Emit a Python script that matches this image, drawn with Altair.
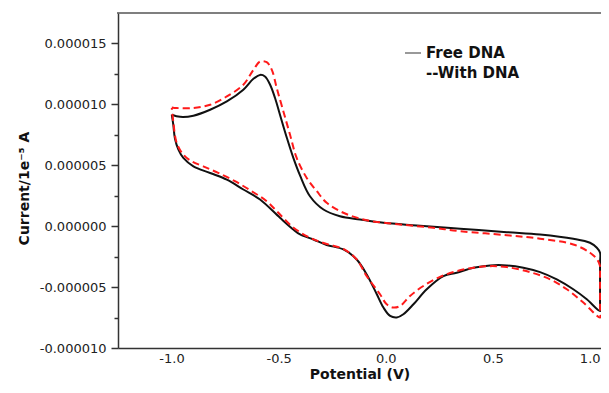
import altair as alt
import pandas as pd

# Free DNA (black, solid) - potential (V) and current (x1e-6 A), in scan order
free_v = [-0.999, -0.960, -0.898, -0.820, -0.742, -0.665, -0.618, -0.587, -0.564, -0.540,
          -0.517, -0.494, -0.462, -0.432, -0.400, -0.354, -0.291, -0.214, -0.120, -0.011,
          0.144, 0.347, 0.565, 0.720, 0.875, 0.953, 0.985, 1.000, 1.000, 1.000, 1.000,
          0.938, 0.875, 0.798, 0.720, 0.642, 0.565, 0.487, 0.409, 0.331, 0.269,
          0.191, 0.129, 0.082, 0.051, 0.020, -0.011, -0.042, -0.089, -0.136, -0.198,
          -0.276, -0.338, -0.400, -0.432, -0.494, -0.587, -0.665, -0.742, -0.820, -0.898,
          -0.945, -0.968, -0.984, -0.992, -0.999]
free_i = [9.15, 8.98, 9.07, 9.56, 10.24, 11.20, 12.10, 12.42, 12.29, 11.61,
          10.52, 9.15, 7.26, 5.63, 4.15, 2.46, 1.37, 0.82, 0.55, 0.28,
          0.06, -0.21, -0.49, -0.68, -1.03, -1.36, -1.77, -2.18, -3.00, -6.50, -6.96,
          -6.00, -5.18, -4.37, -3.77, -3.41, -3.22, -3.22, -3.41, -3.82, -4.10,
          -5.18, -6.41, -7.23, -7.50, -7.37, -6.68, -5.59, -3.96, -2.73, -1.91,
          -1.54, -1.09, -0.68, -0.27, 0.69, 2.19, 3.01, 3.82, 4.37, 4.91,
          5.60, 6.28, 7.18, 8.33, 9.15]

# With DNA (red, dashed)
with_v = [-0.999, -0.976, -0.898, -0.820, -0.742, -0.665, -0.618, -0.587, -0.556, -0.532,
          -0.509, -0.478, -0.447, -0.416, -0.369, -0.322, -0.276, -0.198, -0.089, 0.067,
          0.222, 0.347, 0.565, 0.720, 0.875, 0.953, 0.985, 1.000, 1.000, 1.000, 1.000,
          0.922, 0.845, 0.767, 0.673, 0.565, 0.487, 0.409, 0.331, 0.253, 0.175,
          0.113, 0.067, 0.035, 0.004, -0.027, -0.089, -0.136, -0.198, -0.276, -0.354,
          -0.432, -0.509, -0.556, -0.626, -0.704, -0.782, -0.852, -0.906, -0.945, -0.976,
          -0.992, -0.999]
with_i = [9.75, 9.70, 9.70, 9.97, 10.65, 11.61, 12.83, 13.51, 13.46, 12.83,
          11.33, 9.42, 7.51, 5.60, 3.96, 2.87, 1.92, 1.10, 0.49, 0.14,
          -0.13, -0.41, -0.74, -1.03, -1.50, -2.18, -2.70, -3.28, -4.00, -7.00, -7.50,
          -6.27, -5.18, -4.37, -3.77, -3.36, -3.28, -3.41, -3.69, -4.16, -4.91,
          -5.73, -6.55, -6.68, -6.41, -5.59, -4.10, -2.73, -1.87, -1.46, -0.95,
          -0.11, 1.23, 2.05, 2.87, 3.69, 4.37, 4.91, 5.32, 5.87, 6.83,
          8.60, 9.70]

legend_labels = ["Free DNA", "--With DNA"]
x_ticks = [-1.0, -0.5, 0.0, 0.5, 1.0]
y_ticks = [-10, -7.5, -5, -2.5, 0, 2.5, 5, 7.5, 10, 12.5, 15]

free_df = pd.DataFrame({"V": free_v, "I": [v * 1e-6 for v in free_i], "idx": range(len(free_v))})
with_df = pd.DataFrame({"V": with_v, "I": [v * 1e-6 for v in with_i], "idx": range(len(with_v))})

FONT = "DejaVu Sans"
is_major = "abs(round(datum.value*2e5) - datum.value*2e5) < 0.01"
W = 483
H = 335

x_enc = alt.X(
    "V:Q",
    scale=alt.Scale(domain=[-1.25, 1.0044], nice=False, zero=False),
    axis=alt.Axis(
        values=x_ticks,
        labelExpr="replace(format(datum.value, '.1f'), '\u2212', '-')",
        title="Potential (V)",
        ticks=False,
        tickSize=0,
        labelPadding=4,
        titlePadding=2,
        titleFontSize=14,
        grid=False,
    ),
)
y_enc = alt.Y(
    "I:Q",
    scale=alt.Scale(domain=[-10e-6, 17.5e-6], nice=False, zero=False),
    axis=alt.Axis(
        values=[v * 1e-6 for v in y_ticks],
        labelExpr=is_major + " ? replace(format(datum.value, '.6f'), '\u2212', '-') : ''",
        title="Current/1e\u207b\u2075 A",
        tickSize={"condition": {"test": is_major, "value": 7}, "value": 4},
        labelPadding=5,
        titlePadding=8,
        titleY=175,
        grid=False,
    ),
)

black = alt.Chart(free_df).mark_line(
    color="#111111", strokeWidth=2, interpolate="catmull-rom"
).encode(x=x_enc, y=y_enc, order="idx:Q")

red = alt.Chart(with_df).mark_line(
    color="#ff1a1a", strokeWidth=2, strokeDash=[7, 4], interpolate="catmull-rom"
).encode(x=x_enc, y=y_enc, order="idx:Q")

top_border = alt.Chart(pd.DataFrame({"k": [0]})).mark_rule(
    color="#555555", strokeWidth=1.5
).encode(x=alt.value(-1), x2=alt.value(W + 10), y=alt.value(0))

leg_line = alt.Chart(pd.DataFrame({"k": [0]})).mark_rule(
    color="#555555", strokeWidth=1.2
).encode(x=alt.value(287), x2=alt.value(303), y=alt.value(40))

leg_text = alt.Chart(pd.DataFrame({"t": legend_labels, "k": [40, 60]})).mark_text(
    align="left", baseline="middle", font=FONT, fontSize=15, fontWeight="bold", color="#111111"
).encode(x=alt.value(308), y=alt.Y("k:Q", scale=None), text="t:N")

chart = alt.layer(black, red, top_border, leg_line, leg_text).properties(
    width=W,
    height=H,
    autosize=alt.AutoSizeParams(type="none"),
    padding={"left": 110, "top": 5, "right": 0, "bottom": 37},
).configure_view(
    strokeWidth=0
).configure_axis(
    domainColor="#333333",
    domainWidth=1.5,
    tickColor="#333333",
    tickWidth=1.5,
    labelFont=FONT,
    labelFontSize=13,
    labelColor="#222222",
    titleFont=FONT,
    titleFontSize=15,
    titleFontWeight="bold",
    titleColor="#111111",
).configure_axisY(
    titleFontSize=14
)

chart.save("out.html", embed_options={"renderer": "svg", "actions": False})
